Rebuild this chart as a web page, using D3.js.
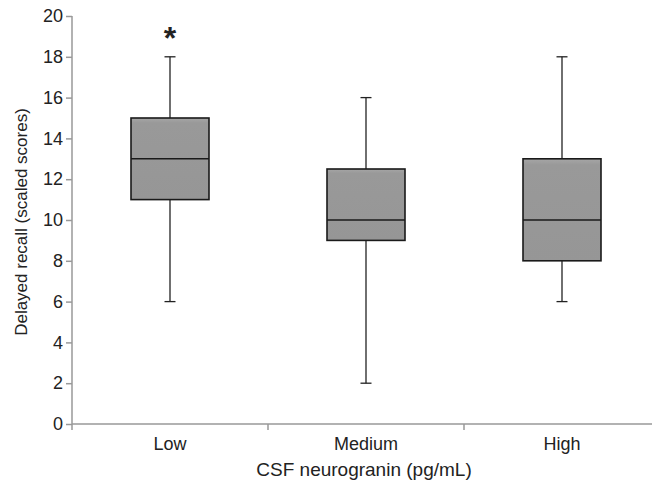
<!DOCTYPE html>
<meta charset="utf-8">
<head>
<style>
body { margin: 0; background: #fff; }
text { font-family: 'Liberation Sans', Arial, sans-serif; fill: #222; }
.axis text { font-size: 18px; }
.axis path, .axis line { stroke: #999; stroke-width: 1.5; }
</style>
<script src="https://d3js.org/d3.v7.min.js"></script>
</head>
<body>
<svg id="chart"></svg>
<script>
// box plot values
var groups = ["Low", "Medium", "High"]
var mins = [6, 2, 6]
var q1s = [11, 9, 8]
var medians = [13, 10, 10]
var q3s = [15, 12.5, 13]
var maxs = [18, 16, 18]
var yTicks = [0, 2, 4, 6, 8, 10, 12, 14, 16, 18, 20]

var width = 652, height = 484
var margin = {top: 16, right: -8, bottom: 60, left: 72}

var svg = d3.select('#chart')
  .attr('width', width)
  .attr('height', height)

var x = d3.scaleBand()
  .domain(groups)
  .range([margin.left, width - margin.right])

var y = d3.scaleLinear()
  .domain([0, 20])
  .range([height - margin.bottom, margin.top])

var boxW = 78, capW = 11

// y axis
var yAxis = svg.append('g')
  .attr('class', 'axis')
  .attr('transform', 'translate(' + margin.left + ',0)')
  .call(d3.axisLeft(y).tickValues(yTicks).tickSize(6).tickPadding(3))
yAxis.select('.domain').attr('d', 'M0,' + y(20) + 'V' + y(0))

// x axis with ticks between categories
var xAxis = svg.append('g')
  .attr('class', 'axis')
  .attr('transform', 'translate(0,' + y(0) + ')')
xAxis.append('line')
  .attr('x1', margin.left).attr('x2', width)
groups.concat(['_end']).forEach(function (g, i) {
  var xx = i < groups.length ? x(g) : x(groups[groups.length - 1]) + x.bandwidth()
  xAxis.append('line').attr('x1', xx).attr('x2', xx).attr('y1', 0).attr('y2', 6)
})
xAxis.selectAll('.lbl')
  .data(groups)
  .enter().append('text')
  .attr('class', 'lbl')
  .attr('x', function (d) { return x(d) + x.bandwidth() / 2 })
  .attr('y', 26)
  .attr('text-anchor', 'middle')
  .text(function (d) { return d })

// axis titles
svg.append('text')
  .attr('x', 364)
  .attr('y', 476)
  .attr('text-anchor', 'middle')
  .style('font-size', '19px')
  .text('CSF neurogranin (pg/mL)')

svg.append('text')
  .attr('transform', 'translate(27,' + ((y(0) + y(20)) / 2 + 2) + ') rotate(-90)')
  .attr('text-anchor', 'middle')
  .style('font-size', '17px')
  .text('Delayed recall (scaled scores)')

var defs = svg.append('defs')
var grad = defs.append('linearGradient').attr('id', 'boxfill')
  .attr('x1', 0).attr('x2', 0).attr('y1', 0).attr('y2', 1)
grad.append('stop').attr('offset', '0%').attr('stop-color', '#a6a6a6')
grad.append('stop').attr('offset', '6%').attr('stop-color', '#999')
grad.append('stop').attr('offset', '100%').attr('stop-color', '#969696')

var box = svg.selectAll('.box')
  .data(groups)
  .enter().append('g')
  .attr('class', 'box')
  .attr('transform', function (d) { return 'translate(' + (x(d) + x.bandwidth() / 2) + ',0)' })

// whiskers
box.append('line')
  .attr('x1', 0).attr('x2', 0)
  .attr('y1', function (d, i) { return y(maxs[i]) })
  .attr('y2', function (d, i) { return y(mins[i]) })
  .attr('stroke', '#222').attr('stroke-width', 1.3)
box.append('line')
  .attr('x1', -capW / 2).attr('x2', capW / 2)
  .attr('y1', function (d, i) { return y(maxs[i]) })
  .attr('y2', function (d, i) { return y(maxs[i]) })
  .attr('stroke', '#222').attr('stroke-width', 1.3)
box.append('line')
  .attr('x1', -capW / 2).attr('x2', capW / 2)
  .attr('y1', function (d, i) { return y(mins[i]) })
  .attr('y2', function (d, i) { return y(mins[i]) })
  .attr('stroke', '#222').attr('stroke-width', 1.3)

// boxes
box.append('rect')
  .attr('x', -boxW / 2)
  .attr('width', boxW)
  .attr('y', function (d, i) { return y(q3s[i]) })
  .attr('height', function (d, i) { return y(q1s[i]) - y(q3s[i]) })
  .attr('fill', 'url(#boxfill)')
  .attr('stroke', '#1a1a1a').attr('stroke-width', 1.6)

box.append('line')
  .attr('x1', -boxW / 2).attr('x2', boxW / 2)
  .attr('y1', function (d, i) { return y(medians[i]) })
  .attr('y2', function (d, i) { return y(medians[i]) })
  .attr('stroke', '#1a1a1a').attr('stroke-width', 1.6)

// significance marker
svg.append('text')
  .attr('x', x('Low') + x.bandwidth() / 2)
  .attr('y', y(18.4))
  .attr('text-anchor', 'middle')
  .style('font-size', '32px')
  .style('font-weight', 'bold')
  .text('*')
</script>
</body>
</html>
